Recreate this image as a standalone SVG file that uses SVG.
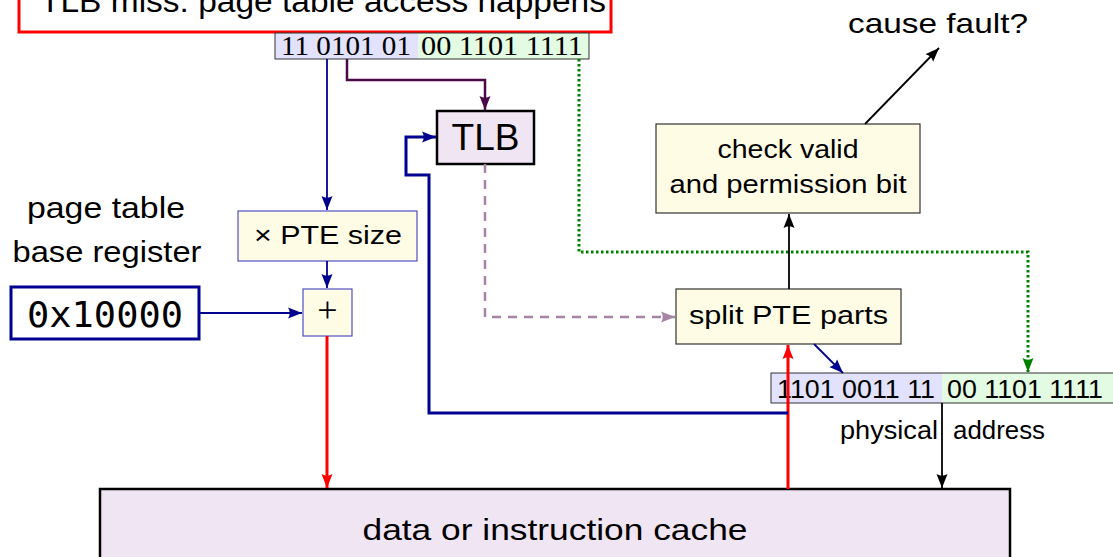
<svg xmlns="http://www.w3.org/2000/svg" width="1113" height="557" viewBox="0 0 1113 557">
<style>
text{font-family:"Liberation Sans","Arial",sans-serif;fill:#000}
.serif{font-family:"Liberation Serif","Times New Roman",serif}
.mono{font-family:"DejaVu Sans Mono","Liberation Mono",monospace}
.ybox{fill:#fffce6;stroke:#333;stroke-width:1.2}
.bbox{fill:#fffce6;stroke:#5050c0;stroke-width:1.2}
.lav{fill:#f0e5f2;stroke:#000;stroke-width:2.5}
.va{fill:#e2e2fd}
.pa{fill:#e2fbe2}
.out{fill:none;stroke:#333;stroke-width:1}
.c{fill:none}
</style>
<defs>
<marker id="aNavy" markerUnits="userSpaceOnUse" markerWidth="15" markerHeight="12" refX="14" refY="6" orient="auto"><path d="M0,0.5 L14,6 L0,11.5 Q3.5,6 0,0.5z" fill="#000090"/></marker>
<marker id="aRed" markerUnits="userSpaceOnUse" markerWidth="15" markerHeight="12" refX="14" refY="6" orient="auto"><path d="M0,0.5 L14,6 L0,11.5 Q3.5,6 0,0.5z" fill="#ff0000"/></marker>
<marker id="aBlack" markerUnits="userSpaceOnUse" markerWidth="15" markerHeight="12" refX="14" refY="6" orient="auto"><path d="M0,0.5 L14,6 L0,11.5 Q3.5,6 0,0.5z" fill="#000"/></marker>
<marker id="aPurple" markerUnits="userSpaceOnUse" markerWidth="15" markerHeight="12" refX="14" refY="6" orient="auto"><path d="M0,0.5 L14,6 L0,11.5 Q3.5,6 0,0.5z" fill="#4a0a4a"/></marker>
<marker id="aGreen" markerUnits="userSpaceOnUse" markerWidth="15" markerHeight="12" refX="14" refY="6" orient="auto"><path d="M0,0.5 L14,6 L0,11.5 Q3.5,6 0,0.5z" fill="#008000"/></marker>
<marker id="aMauve" markerUnits="userSpaceOnUse" markerWidth="15" markerHeight="12" refX="14" refY="6" orient="auto"><path d="M0,0.5 L14,6 L0,11.5 Q3.5,6 0,0.5z" fill="#a584a5"/></marker>
</defs>
<rect width="1113" height="557" fill="#fff"/>

<g id="miss">
<rect x="19" y="-30" width="592" height="62" fill="#fff" stroke="#ff0000" stroke-width="3"/>
<text x="40" y="12" font-size="31" textLength="566" lengthAdjust="spacingAndGlyphs">TLB miss: page table access happens</text>
</g>

<g id="vaddr">
<rect class="va" x="275" y="33" width="143" height="26"/>
<rect class="pa" x="418" y="33" width="171" height="26"/>
<rect class="out" x="275" y="33" width="314" height="26"/>
<text class="serif" x="281" y="55" font-size="27" textLength="130" lengthAdjust="spacingAndGlyphs">11 0101 01</text>
<text class="serif" x="421" y="55" font-size="27" textLength="162" lengthAdjust="spacingAndGlyphs">00 1101 1111</text>
</g>

<g id="fault">
<text x="848" y="33" font-size="28" textLength="180" lengthAdjust="spacingAndGlyphs">cause fault?</text>
</g>

<g id="check">
<rect class="ybox" x="656" y="124" width="264" height="89"/>
<text x="788" y="158" font-size="25" text-anchor="middle" textLength="141" lengthAdjust="spacingAndGlyphs">check valid</text>
<text x="788" y="193" font-size="25" text-anchor="middle" textLength="237" lengthAdjust="spacingAndGlyphs">and permission bit</text>
</g>

<g id="tlb">
<rect class="lav" x="437" y="111" width="97" height="53" stroke-width="2"/>
<text x="485.5" y="150" font-size="36" text-anchor="middle" textLength="68" lengthAdjust="spacingAndGlyphs">TLB</text>
</g>

<g id="ptbrlabel">
<text x="106" y="218" font-size="30" text-anchor="middle" textLength="158" lengthAdjust="spacingAndGlyphs">page table</text>
<text x="107" y="262" font-size="30" text-anchor="middle" textLength="189" lengthAdjust="spacingAndGlyphs">base register</text>
</g>

<g id="ptesize">
<rect class="bbox" x="238" y="211" width="179" height="50"/>
<text x="328" y="244" font-size="25" text-anchor="middle" textLength="148" lengthAdjust="spacingAndGlyphs">× PTE size</text>
</g>

<g id="plus">
<rect class="bbox" x="303" y="289" width="49" height="47"/>
<text class="serif" x="327.5" y="322" font-size="36" text-anchor="middle">+</text>
</g>

<g id="ptbr">
<rect x="11" y="287" width="188" height="52" fill="#fff" stroke="#000090" stroke-width="3"/>
<text class="mono" x="105" y="327" font-size="35" text-anchor="middle" textLength="156" lengthAdjust="spacingAndGlyphs">0x10000</text>
</g>

<g id="split">
<rect class="ybox" x="676" y="289" width="225" height="55"/>
<text x="788.5" y="324" font-size="25" text-anchor="middle" textLength="199" lengthAdjust="spacingAndGlyphs">split PTE parts</text>
</g>

<g id="paddr">
<rect class="va" x="771" y="373" width="171" height="30"/>
<rect class="pa" x="942" y="373" width="180" height="30"/>
<rect class="out" x="771" y="373" width="351" height="30"/>
<text x="777" y="398" font-size="25" textLength="158" lengthAdjust="spacingAndGlyphs">1101 0011 11</text>
<text x="947" y="398" font-size="25" textLength="156" lengthAdjust="spacingAndGlyphs">00 1101 1111</text>
<text x="938" y="439" font-size="25" text-anchor="end" textLength="98" lengthAdjust="spacingAndGlyphs">physical</text>
<text x="953" y="439" font-size="25" textLength="92" lengthAdjust="spacingAndGlyphs">address</text>
</g>

<g id="cache">
<rect class="lav" x="100" y="489" width="910" height="100" stroke-width="3"/>
<text x="555" y="540" font-size="30" text-anchor="middle" textLength="385" lengthAdjust="spacingAndGlyphs">data or instruction cache</text>
</g>

<g id="connectors" class="c">
<path d="M327,59 V210" stroke="#000090" stroke-width="1.8" marker-end="url(#aNavy)"/>
<path d="M327,261 V288" stroke="#000090" stroke-width="1.8" marker-end="url(#aNavy)"/>
<path d="M199,313 H302" stroke="#000090" stroke-width="1.8" marker-end="url(#aNavy)"/>
<path d="M327,336 V488" stroke="#ff0000" stroke-width="3" marker-end="url(#aRed)"/>
<path d="M347,59 V80 H485 V110" stroke="#4a0a4a" stroke-width="2.5" marker-end="url(#aPurple)"/>
<path d="M579,59 V252 H1028 V372" stroke="#008000" stroke-width="3" stroke-dasharray="2.5,2.5" marker-end="url(#aGreen)"/>
<path d="M485,164 V317 H675" stroke="#a584a5" stroke-width="2.5" stroke-dasharray="9,7" marker-end="url(#aMauve)"/>
<path d="M789,289 V214" stroke="#000" stroke-width="1.8" marker-end="url(#aBlack)"/>
<path d="M865,124 L939,48" stroke="#000" stroke-width="1.8" marker-end="url(#aBlack)"/>
<path d="M814,344 L843,373" stroke="#000090" stroke-width="1.8" marker-end="url(#aNavy)"/>
<path d="M788,489 V345" stroke="#ff0000" stroke-width="3" marker-end="url(#aRed)"/>
<path d="M788,413 H429 V175 H406 V137 H436" stroke="#000090" stroke-width="3" marker-end="url(#aNavy)"/>
<path d="M942,403 V488" stroke="#000" stroke-width="1.8" marker-end="url(#aBlack)"/>
</g>
</svg>
